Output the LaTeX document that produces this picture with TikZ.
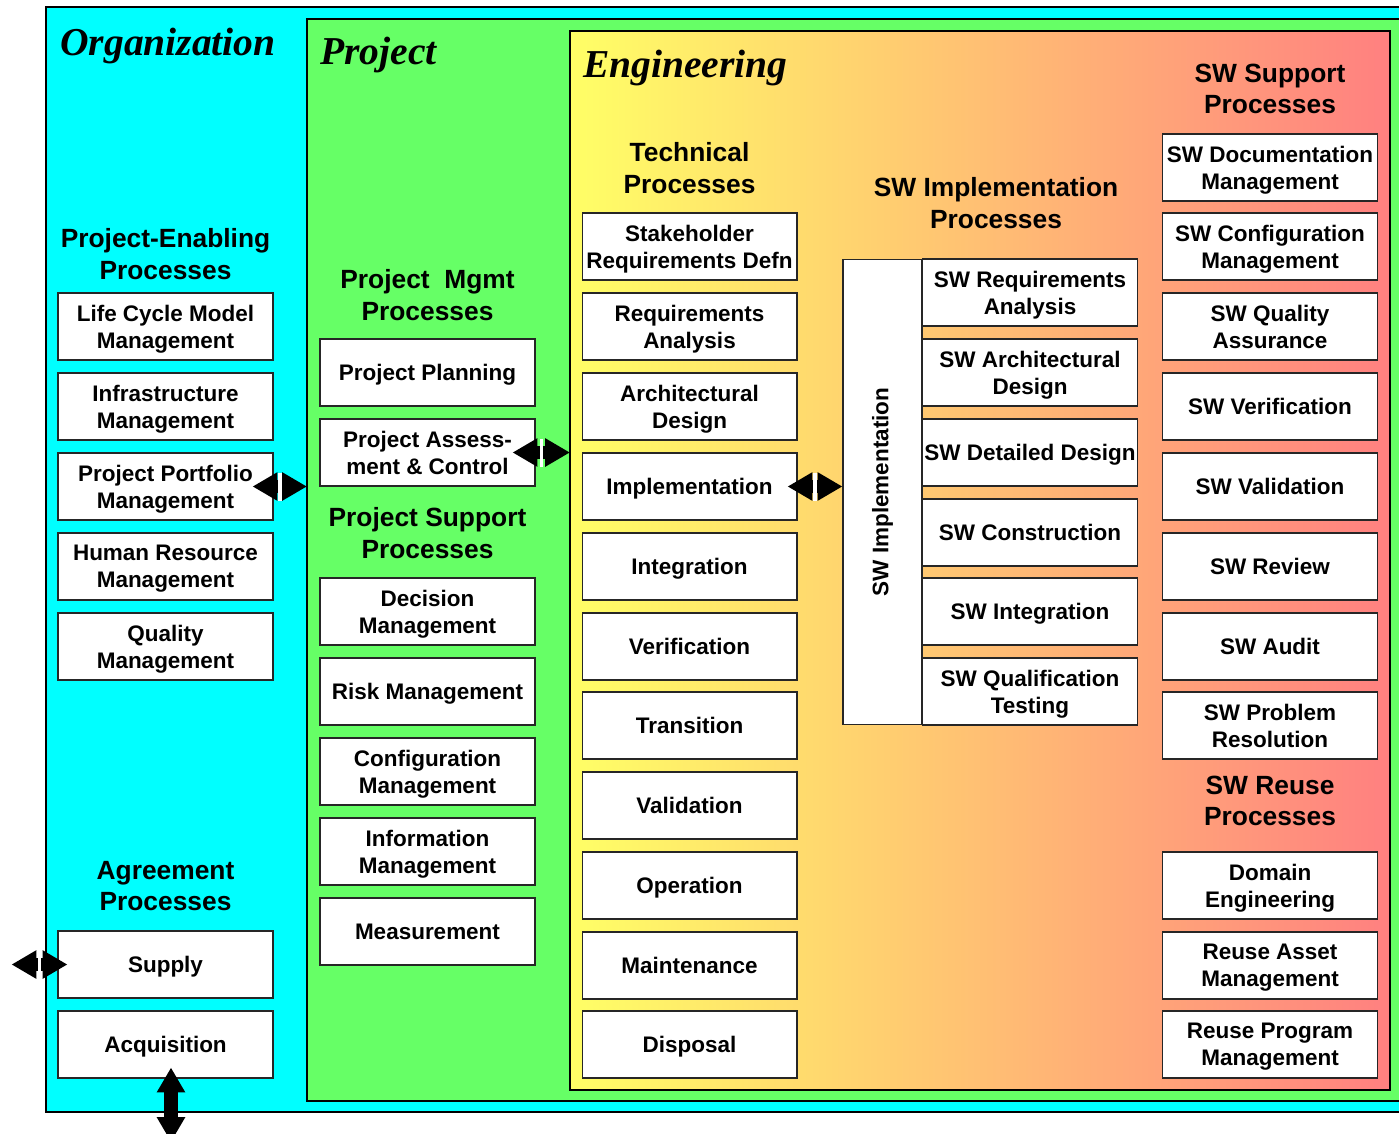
\documentclass[tikz,border=0pt]{standalone}
\usepackage{fontspec}
\setmainfont{Liberation Sans}
\newfontfamily\titlefont{Liberation Serif}
\usetikzlibrary{arrows.meta,calc}
\definecolor{orgCyan}{RGB}{0,255,255}
\definecolor{projGreen}{RGB}{102,255,102}
\definecolor{engYellow}{RGB}{255,255,102}
\definecolor{engPink}{RGB}{255,128,128}
\tikzset{
  procbox/.style={draw=black!85, fill=white, line width=0.6pt, minimum width=4.3cm,
    minimum height=1.34cm, inner sep=0pt, align=center, text depth=0pt,
    font=\bfseries\fontsize{12.8}{15.3}\selectfont},
  heading/.style={align=center, inner sep=0pt, font=\bfseries\fontsize{15}{18.1}\selectfont},
  areatitle/.style={anchor=base west, inner sep=0pt,
    font=\titlefont\bfseries\itshape\fontsize{22.5}{27}\selectfont},
  bigarrow/.style={line width=7.9pt,
    {Triangle[length=14.2pt,width=15.3pt]}-{Triangle[length=14.2pt,width=15.3pt]}},
  gapline/.style={white, line width=2pt}
}
\begin{document}
\begin{tikzpicture}[x=0.02cm, y=-0.02cm]
        \clip (0,0) rectangle (1399,1133);

        % nested areas
        \draw[line width=0.8pt, fill=orgCyan] (46,7) rectangle (1420,1112);
        \draw[line width=0.8pt, fill=projGreen] (307,19) rectangle (1420,1101);
        \draw[line width=0.8pt, left color=engYellow, right color=engPink] (570,31) rectangle (1390,1090);

        \node[areatitle] (orgTitle) at (60,55) {Organization};
        \node[areatitle] (projTitle) at (320,64) {Project};
        \node[areatitle] (engTitle) at (583,77) {Engineering};

        \node[heading] (enabHead) at (165.5,254) {Project-Enabling\\Processes};
        \node[heading] (agrHead) at (165.5,886) {Agreement\\Processes};
        \node[heading] (mgmtHead) at (427.5,295) {Project\ \ Mgmt\\Processes};
        \node[heading] (suppHead) at (427.5,533) {Project Support\\Processes};
        \node[heading] (techHead) at (689.5,168) {Technical\\Processes};
        \node[heading] (implHead) at (996,203) {SW Implementation\\Processes};
        \node[heading] (swsHead) at (1270,89) {SW Support\\Processes};
        \node[heading] (reuseHead) at (1270,801) {SW Reuse\\Processes};

        % organization
        \foreach \n/\y/\t in
        {lcm/326.5/Life Cycle Model\\Management,
            infra/406.5/Infrastructure\\Management,
            portf/486.5/Project Portfolio\\Management,
            hr/566.5/Human Resource\\Management,
            qm/646.5/Quality\\Management,
            supply/964.5/Supply,
            acq/1044.5/Acquisition}
        {
            \node[procbox] (\n) at (165.5,\y) {\t};
        };

        % project
        \foreach \n/\y/\t in
        {plan/372.5/Project Planning,
            assess/452.5/Project Assess-\\ment \& Control,
            decis/611.5/Decision\\Management,
            risk/691.5/Risk Management,
            config/771.5/Configuration\\Management,
            info/851.5/Information\\Management,
            meas/931.5/Measurement}
        {
            \node[procbox] (\n) at (427.5,\y) {\t};
        };

        % technical
        \foreach \n/\y/\t in
        {stake/246.5/Stakeholder\\Requirements Defn,
            reqan/326.5/Requirements\\Analysis,
            arch/406.5/Architectural\\Design,
            impl/486.5/Implementation,
            integ/566.5/Integration,
            verif/646.5/Verification,
            trans/725.5/Transition,
            valid/805.5/Validation,
            oper/885.5/Operation,
            maint/965.5/Maintenance,
            disp/1044.5/Disposal}
        {
            \node[procbox] (\n) at (689.5,\y) {\t};
        };

        % sw implementation
        \node[procbox, minimum width=1.58cm, minimum height=9.32cm] (swimp) at (882.5,492) {};
        \node[rotate=90, font=\bfseries\fontsize{12.8}{15.3}\selectfont] (swimpLabel) at (swimp.center) {SW Implementation};
        \foreach \n/\y/\t in
        {swreq/292.5/SW Requirements\\Analysis,
            swarch/372.5/SW Architectural\\Design,
            swdet/452.5/SW Detailed Design,
            swcons/532.5/SW Construction,
            swint/611.5/SW Integration,
            swqual/691.5/SW Qualification\\Testing}
        {
            \node[procbox] (\n) at (1030,\y) {\t};
        };

        % sw support and reuse
        \foreach \n/\y/\t in
        {swdoc/167.5/SW Documentation\\Management,
            swcfg/246.5/SW Configuration\\Management,
            swqa/326.5/SW Quality\\Assurance,
            swver/406.5/SW Verification,
            swval/486.5/SW Validation,
            swrev/566.5/SW Review,
            swaud/646.5/SW Audit,
            swprob/725.5/SW Problem\\Resolution,
            domeng/885.5/Domain\\Engineering,
            reasset/965.5/Reuse Asset\\Management,
            reprog/1044.5/Reuse Program\\Management}
        {
            \node[procbox] (\n) at (1270,\y) {\t};
        };

        % interfaces
        \coordinate (supA) at ($(supply.west)+(-46,0)$);
        \coordinate (supB) at ($(supply.west)+(10,0)$);
        \coordinate (porA) at ($(portf.east)+(-21,0)$);
        \coordinate (porB) at (307,486.5);
        \coordinate (assA) at ($(assess.east)+(-23,0)$);
        \coordinate (assB) at (570,452.5);
        \coordinate (impA) at ($(impl.east)+(-10,0)$);
        \coordinate (impB) at (swimp.west |- impl.east);
        \coordinate (acqA) at ($(acq.south)+(5.5,-11)$);
        \coordinate (acqB) at (171,1142);

        \foreach \a/\b in {supA/supB, porA/porB, assA/assB, impA/impB}
        {
            \draw[bigarrow] (\a) -- (\b);
            \draw[gapline] ($(\a)!0.5!(\b)+(0,-14)$) -- ($(\a)!0.5!(\b)+(0,14)$);
        };
        \draw[bigarrow] (acqA) -- (acqB);

\end{tikzpicture}
\end{document}
